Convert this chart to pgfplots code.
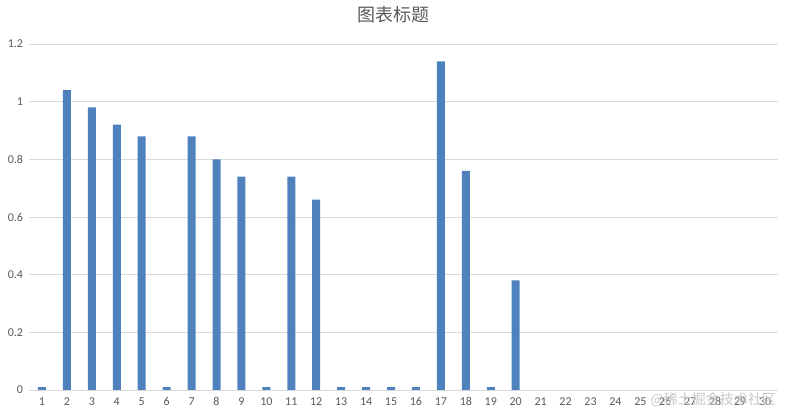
\documentclass[border=0pt]{standalone}
\usepackage{pgfplots}
\pgfplotsset{compat=1.18}
\usepackage{fontspec}
\setmainfont{Carlito}
\newfontfamily\cjk{Noto Sans CJK SC}
\definecolor{barblue}{HTML}{4F81BD}
\definecolor{txtgrey}{HTML}{595959}
\definecolor{gridgrey}{HTML}{D9D9D9}
\begin{document}
\begin{tikzpicture}
\begin{axis}[
	scale only axis,
	width=748pt, height=346pt,
	ybar, bar width=8pt,
	xmin=0.5, xmax=30.5,
	ymin=0, ymax=1.2,
	xtick={1,...,30},
	ytick={0,0.2,...,1.2},
	axis line style={draw=none},
	ymajorgrids=true,
	grid style={gridgrey, line width=0.8pt},
	major tick length=0pt,
	tick label style={font=\fontsize{12}{14}\selectfont, text=txtgrey},
	/pgf/number format/assume math mode=true,
	yticklabel style={/pgf/number format/fixed, xshift=-3pt},
	xticklabel style={yshift=-4pt},
	clip=false]
\addplot[fill=barblue, draw=none] coordinates {
(1,0.01) (2,1.04) (3,0.98) (4,0.92) (5,0.88) (6,0.01) (7,0.88) (8,0.80)
(9,0.74) (10,0.01) (11,0.74) (12,0.66) (13,0.01) (14,0.01) (15,0.01)
(16,0.01) (17,1.14) (18,0.76) (19,0.01) (20,0.38) (21,0) (22,0) (23,0)
(24,0) (25,0) (26,0) (27,0) (28,0) (29,0) (30,0)
};
\draw[gridgrey, line width=0.8pt] (axis cs:0.5,0) -- (axis cs:30.5,0);
\end{axis}
\node[text=txtgrey, font=\cjk\fontsize{18}{20}\selectfont] at (363.5pt,375pt) {图表标题};
\node[text=black!22, font=\cjk\fontsize{14}{16}\selectfont, anchor=east] at (750pt,-10pt) {@稀土掘金技术社区};
\pgfresetboundingbox
\path[use as bounding box] (-29.5pt,-25pt) rectangle (756.5pt,390pt);
\end{tikzpicture}
\end{document}
